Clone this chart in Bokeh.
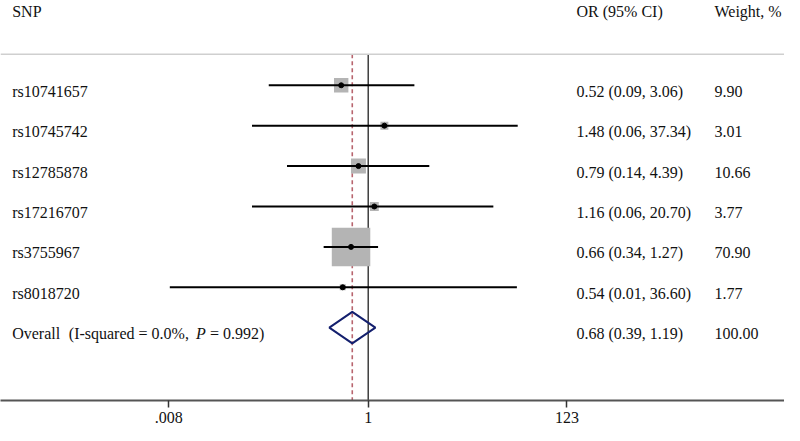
import math
from bokeh.plotting import figure
from bokeh.models import Range1d, LinearScale, FixedTicker, Span, ColumnDataSource
from bokeh.core.properties import value
from bokeh.embed import file_html
from bokeh.resources import INLINE

# ---------------- data ----------------
snps = ["rs10741657", "rs10745742", "rs12785878", "rs17216707", "rs3755967", "rs8018720"]
odds = [0.52, 1.48, 0.79, 1.16, 0.66, 0.54]
ci_low = [0.09, 0.06, 0.14, 0.06, 0.34, 0.0082]
ci_high = [3.06, 37.34, 4.39, 20.70, 1.27, 36.60]
weights = [9.90, 3.01, 10.66, 3.77, 70.90, 1.77]

overall_parts = ["Overall", "(I-squared = 0.0%,", "P", "= 0.992)"]
overall_or = 0.68
overall_low = 0.39
overall_high = 1.19
overall_weight = 100.00

tick_values = [0.008, 1, 123]
tick_labels = [".008", "1", "123"]

headers = ["SNP", "OR (95% CI)", "Weight, %"]

# ---------------- layout constants (pixels) ----------------
W, H = 784, 425
FRAME_H = 401          # expected frame height (figure minus x axis)
PX_PER_DEC = 95.1      # pixels per decade on the log axis
X_ONE_PX = 367.7       # pixel of OR = 1
ROW0_PX = 85.0         # pixel of the first row
ROW_STEP = 40.5
HEADER_PX = 5.5        # anchor pixel of header texts
HLINE_PX = 54.0        # header separator
COL_LABEL, COL_OR, COL_W = 11.7, 576.0, 714.0
OVERALL_X = [11.7, 68.3, 195.5, 209.5]
TEXT_DY = 6
FONT = value("Liberation Serif")
FS = "16px"


def row_of(px):
    return (px - ROW0_PX) / ROW_STEP


x_lo = 10 ** (-X_ONE_PX / PX_PER_DEC)
x_hi = 10 ** ((W - X_ONE_PX) / PX_PER_DEC)
y_top = row_of(0)
y_bot = row_of(FRAME_H)

p = figure(width=W, height=H, x_axis_type="log",
           x_range=Range1d(x_lo, x_hi), y_range=Range1d(y_bot, y_top),
           output_backend="svg", toolbar_location=None,
           y_axis_location=None, min_border=0)
p.extra_x_ranges = {"px": Range1d(0, W)}
p.extra_x_scales = {"px": LinearScale()}
p.outline_line_color = None
p.xgrid.visible = False
p.ygrid.visible = False
p.background_fill_color = "white"
p.border_fill_color = "white"

ax = p.xaxis[0]
ax.ticker = FixedTicker(ticks=tick_values, minor_ticks=[])
ax.major_label_overrides = {t: l for t, l in zip(tick_values, tick_labels)}
ax.axis_line_color = "#555555"
ax.axis_line_width = 2
ax.major_tick_line_color = "#333333"
ax.major_tick_line_width = 1.5
ax.major_tick_out = 7
ax.major_tick_in = 0
ax.minor_tick_line_color = None
ax.major_label_standoff = 4
ax.major_label_text_font = "Liberation Serif"
ax.major_label_text_font_size = FS
ax.major_label_text_color = "#111111"

n = len(snps)
rows = list(range(n))
overall_row = n
header_line_row = row_of(HLINE_PX)

# header separator
p.add_layout(Span(location=header_line_row, dimension="width",
                  line_color="#cfcfcf", line_width=1.5))

# reference lines
p.segment(x0=[1], y0=[header_line_row], x1=[1], y1=[y_bot],
          line_color="#222222", line_width=1.3)
p.segment(x0=[overall_or], y0=[header_line_row], x1=[overall_or], y1=[y_bot],
          line_color="#b8646e", line_width=1.6, line_dash="4 3")

src = ColumnDataSource(dict(
    snp=snps, odds=odds, lo=ci_low, hi=ci_high, w=weights, row=rows,
    side=[38.5 * math.sqrt(w / 70.9) for w in weights],
    ortxt=[f"{o:.2f} ({l:.2f}, {h:.2f})" for o, l, h in zip(odds, ci_low, ci_high)],
    wtxt=[f"{w:.2f}" for w in weights],
))

# weight boxes
p.scatter(x="odds", y="row", size="side", marker="square", source=src,
          fill_color="#b4b4b4", line_color=None)
# CIs
p.segment(x0="lo", y0="row", x1="hi", y1="row", source=src,
          line_color="black", line_width=2)
# point estimates
p.scatter(x="odds", y="row", size=5, marker="circle", source=src,
          fill_color="black", line_color="black")

# overall diamond
dh = 0.39
p.patch(x=[overall_low, overall_or, overall_high, overall_or],
        y=[overall_row, overall_row - dh, overall_row, overall_row + dh],
        fill_color=None, line_color="#14206e", line_width=2)

# texts
tk = dict(text_font=FONT, text_font_size=FS, text_color="#111111",
          text_baseline="middle", y_offset=TEXT_DY, x_range_name="px")
p.text(x=[COL_LABEL] * n, y=rows, text=snps, **tk)
p.text(x=[COL_OR] * n, y=rows, text=src.data["ortxt"], **tk)
p.text(x=[COL_W] * n, y=rows, text=src.data["wtxt"], **tk)

for xx, part in zip(OVERALL_X, overall_parts):
    style = "italic" if part == "P" else "normal"
    p.text(x=[xx], y=[overall_row], text=[part], text_font_style=style, **tk)
p.text(x=[COL_OR], y=[overall_row],
       text=[f"{overall_or:.2f} ({overall_low:.2f}, {overall_high:.2f})"], **tk)
p.text(x=[COL_W], y=[overall_row], text=[f"{overall_weight:.2f}"], **tk)

# headers
p.text(x=[COL_LABEL, COL_OR, COL_W], y=[row_of(HEADER_PX)] * 3, text=headers, **tk)

open("out.html", "w").write(file_html(p, INLINE))
